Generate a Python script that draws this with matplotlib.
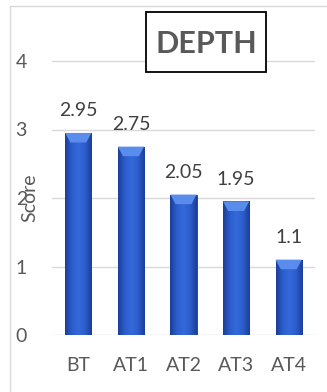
import numpy as np
import matplotlib
matplotlib.use('Agg')
import matplotlib.pyplot as plt
from matplotlib.colors import LinearSegmentedColormap
from matplotlib.patches import Rectangle, Polygon

categories = ['BT', 'AT1', 'AT2', 'AT3', 'AT4']
scores = [2.95, 2.75, 2.05, 1.95, 1.1]
score_labels = ['2.95', '2.75', '2.05', '1.95', '1.1']
yticks = [0, 1, 2, 3, 4]

plt.rcParams['font.family'] = ['Lato', 'DejaVu Sans']

fig = plt.figure(figsize=(3.27, 3.92), dpi=100)
W, H = 327, 392

# outer chart border (light gray), only left and top visible
fig.patches.append(Rectangle((10 / W, -0.1), 1.2, 1 - 6 / H + 0.1,
                             transform=fig.transFigure, fill=False,
                             edgecolor='#D9D9D9', linewidth=1.0))

ax = fig.add_axes([52 / W, 1 - 335 / H, 263 / W, (335 - 26.75) / H])
ax.set_xlim(-0.5, len(categories) - 0.5)
ax.set_ylim(0, 4.5)
for s in ax.spines.values():
    s.set_visible(False)

ax.set_yticks(yticks)
ax.yaxis.grid(True, color='#D9D9D9', linewidth=1.0)
ax.set_axisbelow(True)
ax.tick_params(axis='y', length=0, pad=18, labelsize=14, labelcolor='#595959')
ax.tick_params(axis='x', length=0, pad=16, labelsize=14, labelcolor='#595959')
ax.set_xticks(range(len(categories)))
ax.set_xticklabels(categories)

ax.set_ylabel('Score', fontsize=14, color='#595959')
ax.yaxis.set_label_coords(-0.053, 0.444)

# bars with a side-to-side gradient and a light bevel at the top
cmap = LinearSegmentedColormap.from_list(
    'bar', ['#1B3E98', '#2C5DCB', '#3469DA', '#2C5DCB', '#1B3E98'])
grad = np.linspace(0, 1, 64).reshape(1, -1)
width = 0.5
bars = ax.bar(range(len(categories)), scores, width=width, color='#2C5DCB',
              edgecolor='#1A3A8C', linewidth=0.6, zorder=2)
for i, (b, v) in enumerate(zip(bars, scores)):
    x0 = i - width / 2
    im = ax.imshow(grad, extent=(x0, x0 + width, 0, v), aspect='auto',
                   cmap=cmap, zorder=2.5, interpolation='bilinear')
    im.set_clip_path(b)
    bev = Polygon([(x0, v), (x0 + width, v), (x0 + width * 0.8, v - 0.14),
                   (x0 + width * 0.2, v - 0.14)], closed=True,
                  facecolor='#5A8CEB', edgecolor='none', zorder=3)
    ax.add_patch(bev)
    ax.annotate(score_labels[i], (i, v), xytext=(0, 12),
                textcoords='offset points', ha='center', va='baseline',
                fontsize=14, color='#404040')

# title in a box
fig.patches.append(Rectangle((146 / W, 1 - 72 / H), 120 / W, 60 / H,
                             transform=fig.transFigure, facecolor='white',
                             edgecolor='black', linewidth=1.3, zorder=5))
fig.text(206 / W, 1 - 44 / H, 'DEPTH', ha='center', va='center',
         fontsize=22, fontweight='bold', color='#595959', zorder=6)

fig.savefig('out.png', dpi=100)
